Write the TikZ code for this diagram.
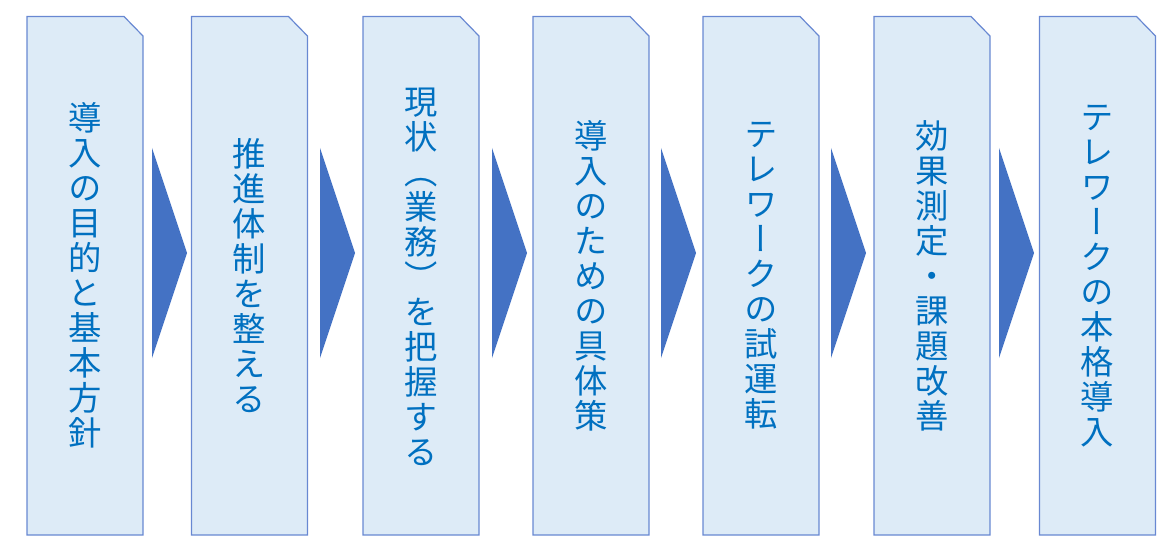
\documentclass[tikz,border=0pt]{standalone}
\usepackage{fontspec}
\newfontfamily\jpfont[RawFeature=+vert]{Noto Sans CJK JP}
\definecolor{boxfill}{RGB}{221,235,247}
\definecolor{boxline}{RGB}{104,136,210}
\definecolor{arrowblue}{RGB}{68,114,196}
\definecolor{textblue}{RGB}{0,112,192}
\begin{document}
\begin{tikzpicture}[x=0.75pt,y=0.75pt,yscale=-1,
  stepbox/.style={draw=boxline,fill=boxfill,line width=0.9pt,line join=miter},
  steparrow/.style={fill=arrowblue,draw=none},
  steptext/.style={text=textblue,inner sep=0pt,align=center,
    font=\jpfont\fontsize{25pt}{26.25pt}\selectfont}]
\useasboundingbox (0,0) rectangle (1175,556);

%Shape: Snip Corner Rectangles
\draw [stepbox] (27,16.5) -- (124,16.5) -- (143,36) -- (143,535) -- (27,535) -- cycle ;
\draw [stepbox] (191.5,16.5) -- (288.5,16.5) -- (307.5,36) -- (307.5,535) -- (191.5,535) -- cycle ;
\draw [stepbox] (363,16.5) -- (460,16.5) -- (479,36) -- (479,535) -- (363,535) -- cycle ;
\draw [stepbox] (533,16.5) -- (630,16.5) -- (649,36) -- (649,535) -- (533,535) -- cycle ;
\draw [stepbox] (703,16.5) -- (800,16.5) -- (819,36) -- (819,535) -- (703,535) -- cycle ;
\draw [stepbox] (874,16.5) -- (971,16.5) -- (990,36) -- (990,535) -- (874,535) -- cycle ;
\draw [stepbox] (1039.5,16.5) -- (1136.5,16.5) -- (1155.5,36) -- (1155.5,535) -- (1039.5,535) -- cycle ;

%Shape: Triangles
\fill [steparrow] (152,148) -- (187,253) -- (152,358) -- cycle ;
\fill [steparrow] (320,148) -- (355,253) -- (320,358) -- cycle ;
\fill [steparrow] (492,148) -- (527,253) -- (492,358) -- cycle ;
\fill [steparrow] (661,148) -- (696,253) -- (661,358) -- cycle ;
\fill [steparrow] (831,148) -- (866,253) -- (831,358) -- cycle ;
\fill [steparrow] (999,148) -- (1034,253) -- (999,358) -- cycle ;

% Text Node
\node [steptext] (purpose) at (85,275.75) {導\\入\\の\\目\\的\\と\\基\\本\\方\\針};
% Text Node
\node [steptext] (system) at (249.5,275.75) {推\\進\\体\\制\\を\\整\\え\\る};
% Text Node
\node [steptext] (current) at (421,277) {現\\状\\（\\業\\務\\）\\を\\把\\握\\す\\る};
% Text Node
\node [steptext] (measures) at (591,275.75) {導\\入\\の\\た\\め\\の\\具\\体\\策};
% Text Node
\node [steptext] (trial) at (761,275.75) {テ\\レ\\ワ\\ー\\ク\\の\\試\\運\\転};
% Text Node
\node [steptext] (review) at (932,275.75) {効\\果\\測\\定\\・\\課\\題\\改\\善};
% Text Node
\node [steptext] (launch) at (1097.5,275.75) {テ\\レ\\ワ\\ー\\ク\\の\\本\\格\\導\\入};

\end{tikzpicture}
\end{document}
